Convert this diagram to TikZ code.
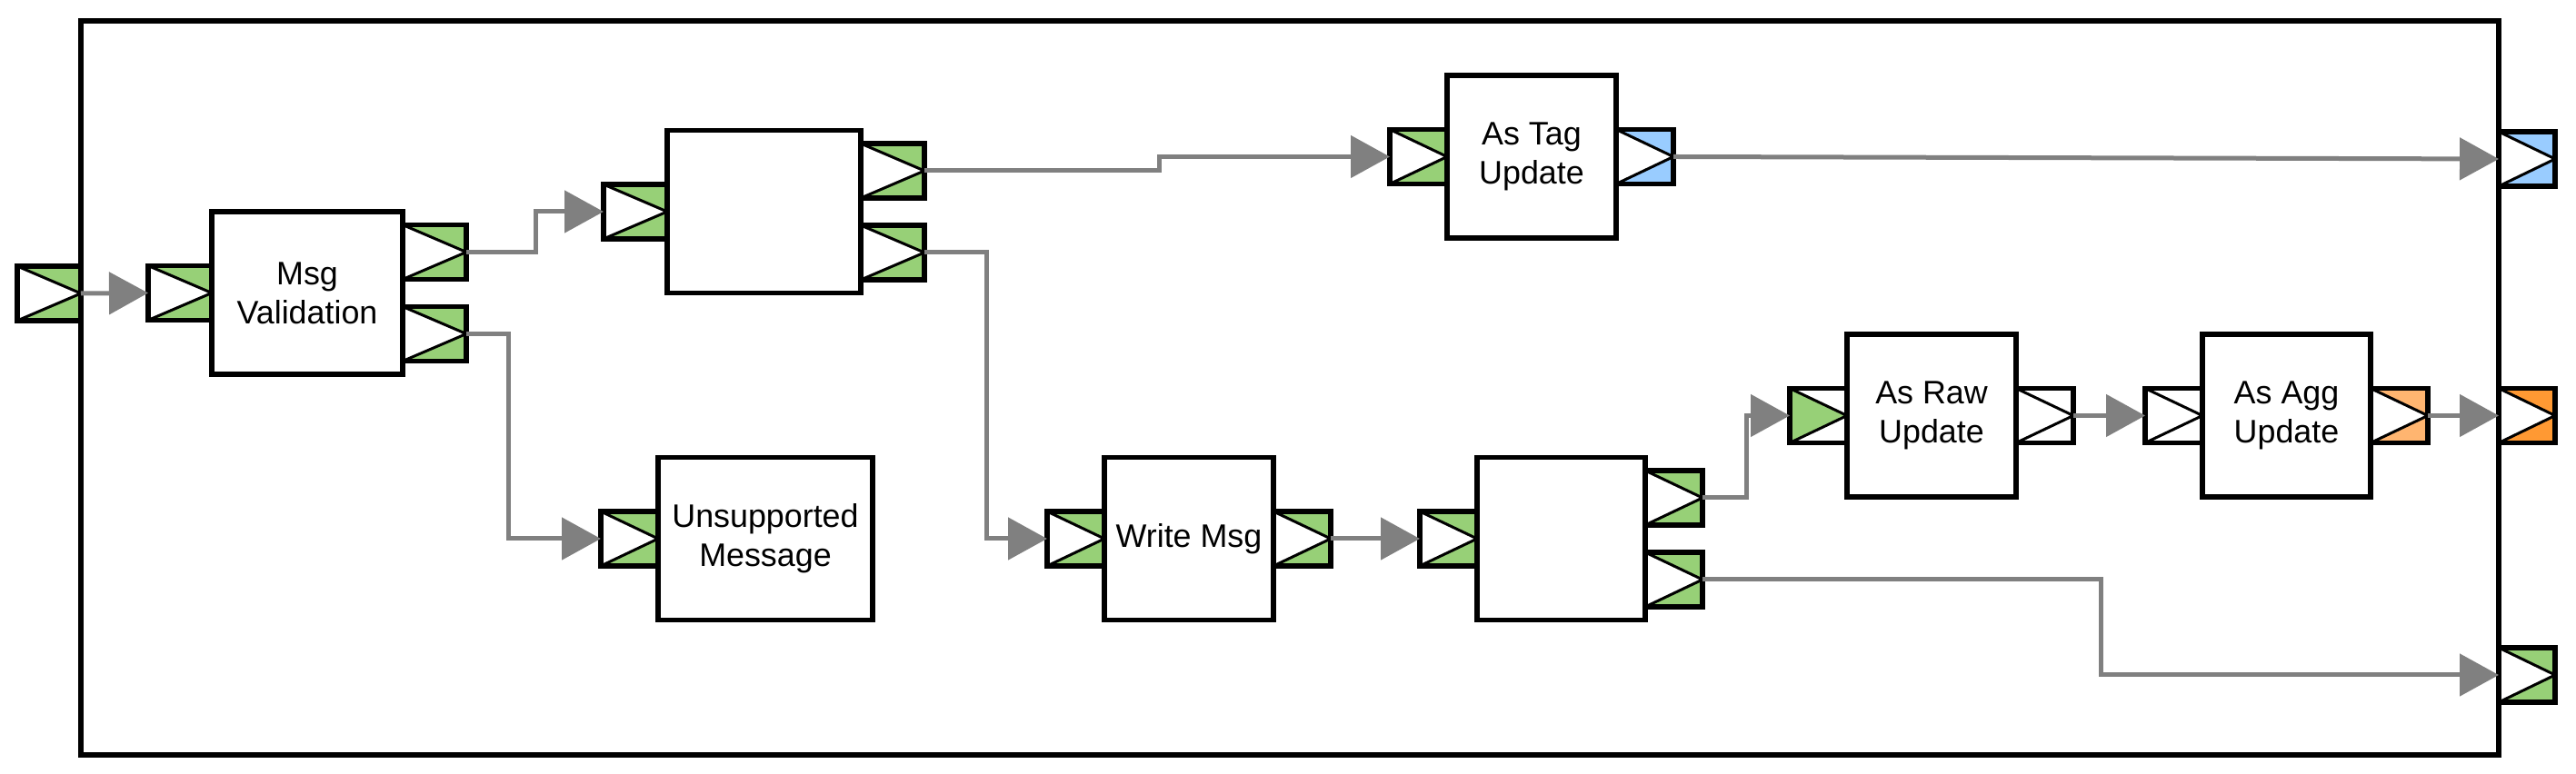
\documentclass[tikz,border=0pt]{standalone}
\usepackage{fontspec}
\setmainfont{Liberation Sans}
\usepackage{xcolor}
\usetikzlibrary{arrows.meta,positioning,calc}

\definecolor{portgreen}{HTML}{97D077}
\definecolor{portblue}{HTML}{99CCFF}
\definecolor{portorange}{HTML}{FFB570}
\definecolor{portdarkorange}{HTML}{FF9933}
\definecolor{linkgray}{HTML}{808080}

\begin{document}
\begin{tikzpicture}[
    block/.style={draw, line width=0.055cm, fill=white, minimum height=1.79cm, inner sep=0pt, outer sep=0pt, align=center, font=\fontsize{10.2}{12.2}\selectfont},
    port/.style 2 args={draw, line width=0.055cm, fill=#1, minimum width=0.63cm, minimum height=0.60cm, inner sep=0pt, outer sep=0pt,
        path picture={\draw[line width=0.03cm, fill=#2] (path picture bounding box.north west) -- (path picture bounding box.east) -- (path picture bounding box.south west) -- cycle;}},
    wideport/.style={minimum width=0.70cm},
    link/.style={draw=linkgray, line width=0.05cm, -{Triangle[length=0.43cm, width=0.46cm]}}
]
    \useasboundingbox (0,0) rectangle (28.34,8.52);

    % Outer frame
    \node[draw, line width=0.06cm, minimum width=26.60cm, minimum height=8.08cm, inner sep=0pt, outer sep=0pt] (frame) at (14.19,4.25) {};

    % Frame ports
    \node[port={portgreen}{white}, wideport, anchor=east] (inport) at (0.89,5.29) {};
    \node[port={portblue}{white}, minimum width=0.62cm, anchor=west] (outblue) at (27.49,6.77) {};
    \node[port={portdarkorange}{white}, minimum width=0.62cm, anchor=west] (outorange) at (27.49,3.945) {};
    \node[port={portgreen}{white}, minimum width=0.62cm, anchor=west] (outgreen) at (27.49,1.09) {};

    % Blocks
    \node[block, minimum width=2.10cm] (valid) at (3.38,5.295) {Msg\\Validation};
    \node[block, minimum width=2.13cm] (split) at (8.405,6.19) {};
    \node[block, minimum width=1.86cm] (tag) at (16.85,6.795) {As Tag\\Update};
    \node[block, minimum width=2.36cm] (unsup) at (8.42,2.59) {Unsupported\\Message};
    \node[block, minimum width=1.86cm] (write) at (13.08,2.59) {Write Msg};
    \node[block, minimum width=1.85cm] (route) at (17.175,2.59) {};
    \node[block, minimum width=1.86cm] (raw) at (21.25,3.945) {As Raw\\Update};
    \node[block, minimum width=1.85cm] (agg) at (25.155,3.945) {As Agg\\Update};

    % Block ports
    \node[port={portgreen}{white}, wideport, anchor=east] (validin) at (valid.west) {};
    \node[port={portgreen}{white}, wideport, anchor=west] (validok) at ([yshift=0.45cm]valid.east) {};
    \node[port={portgreen}{white}, wideport, anchor=west] (validbad) at ([yshift=-0.45cm]valid.east) {};

    \node[port={portgreen}{white}, wideport, anchor=east] (splitin) at (split.west) {};
    \node[port={portgreen}{white}, wideport, anchor=west] (splitup) at ([yshift=0.45cm]split.east) {};
    \node[port={portgreen}{white}, wideport, anchor=west] (splitdown) at ([yshift=-0.45cm]split.east) {};

    \node[port={portgreen}{white}, anchor=east] (tagin) at (tag.west) {};
    \node[port={portblue}{white}, anchor=west] (tagout) at (tag.east) {};

    \node[port={portgreen}{white}, anchor=east] (unsupin) at (unsup.west) {};

    \node[port={portgreen}{white}, anchor=east] (writein) at (write.west) {};
    \node[port={portgreen}{white}, anchor=west] (writeout) at (write.east) {};

    \node[port={portgreen}{white}, anchor=east] (routein) at (route.west) {};
    \node[port={portgreen}{white}, anchor=west] (routeup) at ([yshift=0.45cm]route.east) {};
    \node[port={portgreen}{white}, anchor=west] (routedown) at ([yshift=-0.45cm]route.east) {};

    \node[port={white}{portgreen}, anchor=east] (rawin) at (raw.west) {};
    \node[port={white}{white}, anchor=west] (rawout) at (raw.east) {};

    \node[port={white}{white}, anchor=east] (aggin) at (agg.west) {};
    \node[port={portorange}{white}, anchor=west] (aggout) at (agg.east) {};

    % Links
    \draw[link] (inport.east) -- (validin.west);
    \draw[link] (validok.east) -- ++(0.76,0) |- (splitin.west);
    \draw[link] (validbad.east) -- ++(0.46,0) |- (unsupin.west);
    \draw[link] (splitup.east) -- ++(2.58,0) |- (tagin.west);
    \draw[link] (splitdown.east) -- ++(0.68,0) |- (writein.west);
    \draw[link] (tagout.east) -- (outblue.west);
    \draw[link] (writeout.east) -- (routein.west);
    \draw[link] (routeup.east) -- ++(0.48,0) |- (rawin.west);
    \draw[link] (routedown.east) -- ++(4.38,0) |- (outgreen.west);
    \draw[link] (rawout.east) -- (aggin.west);
    \draw[link] (aggout.east) -- (outorange.west);
\end{tikzpicture}
\end{document}
